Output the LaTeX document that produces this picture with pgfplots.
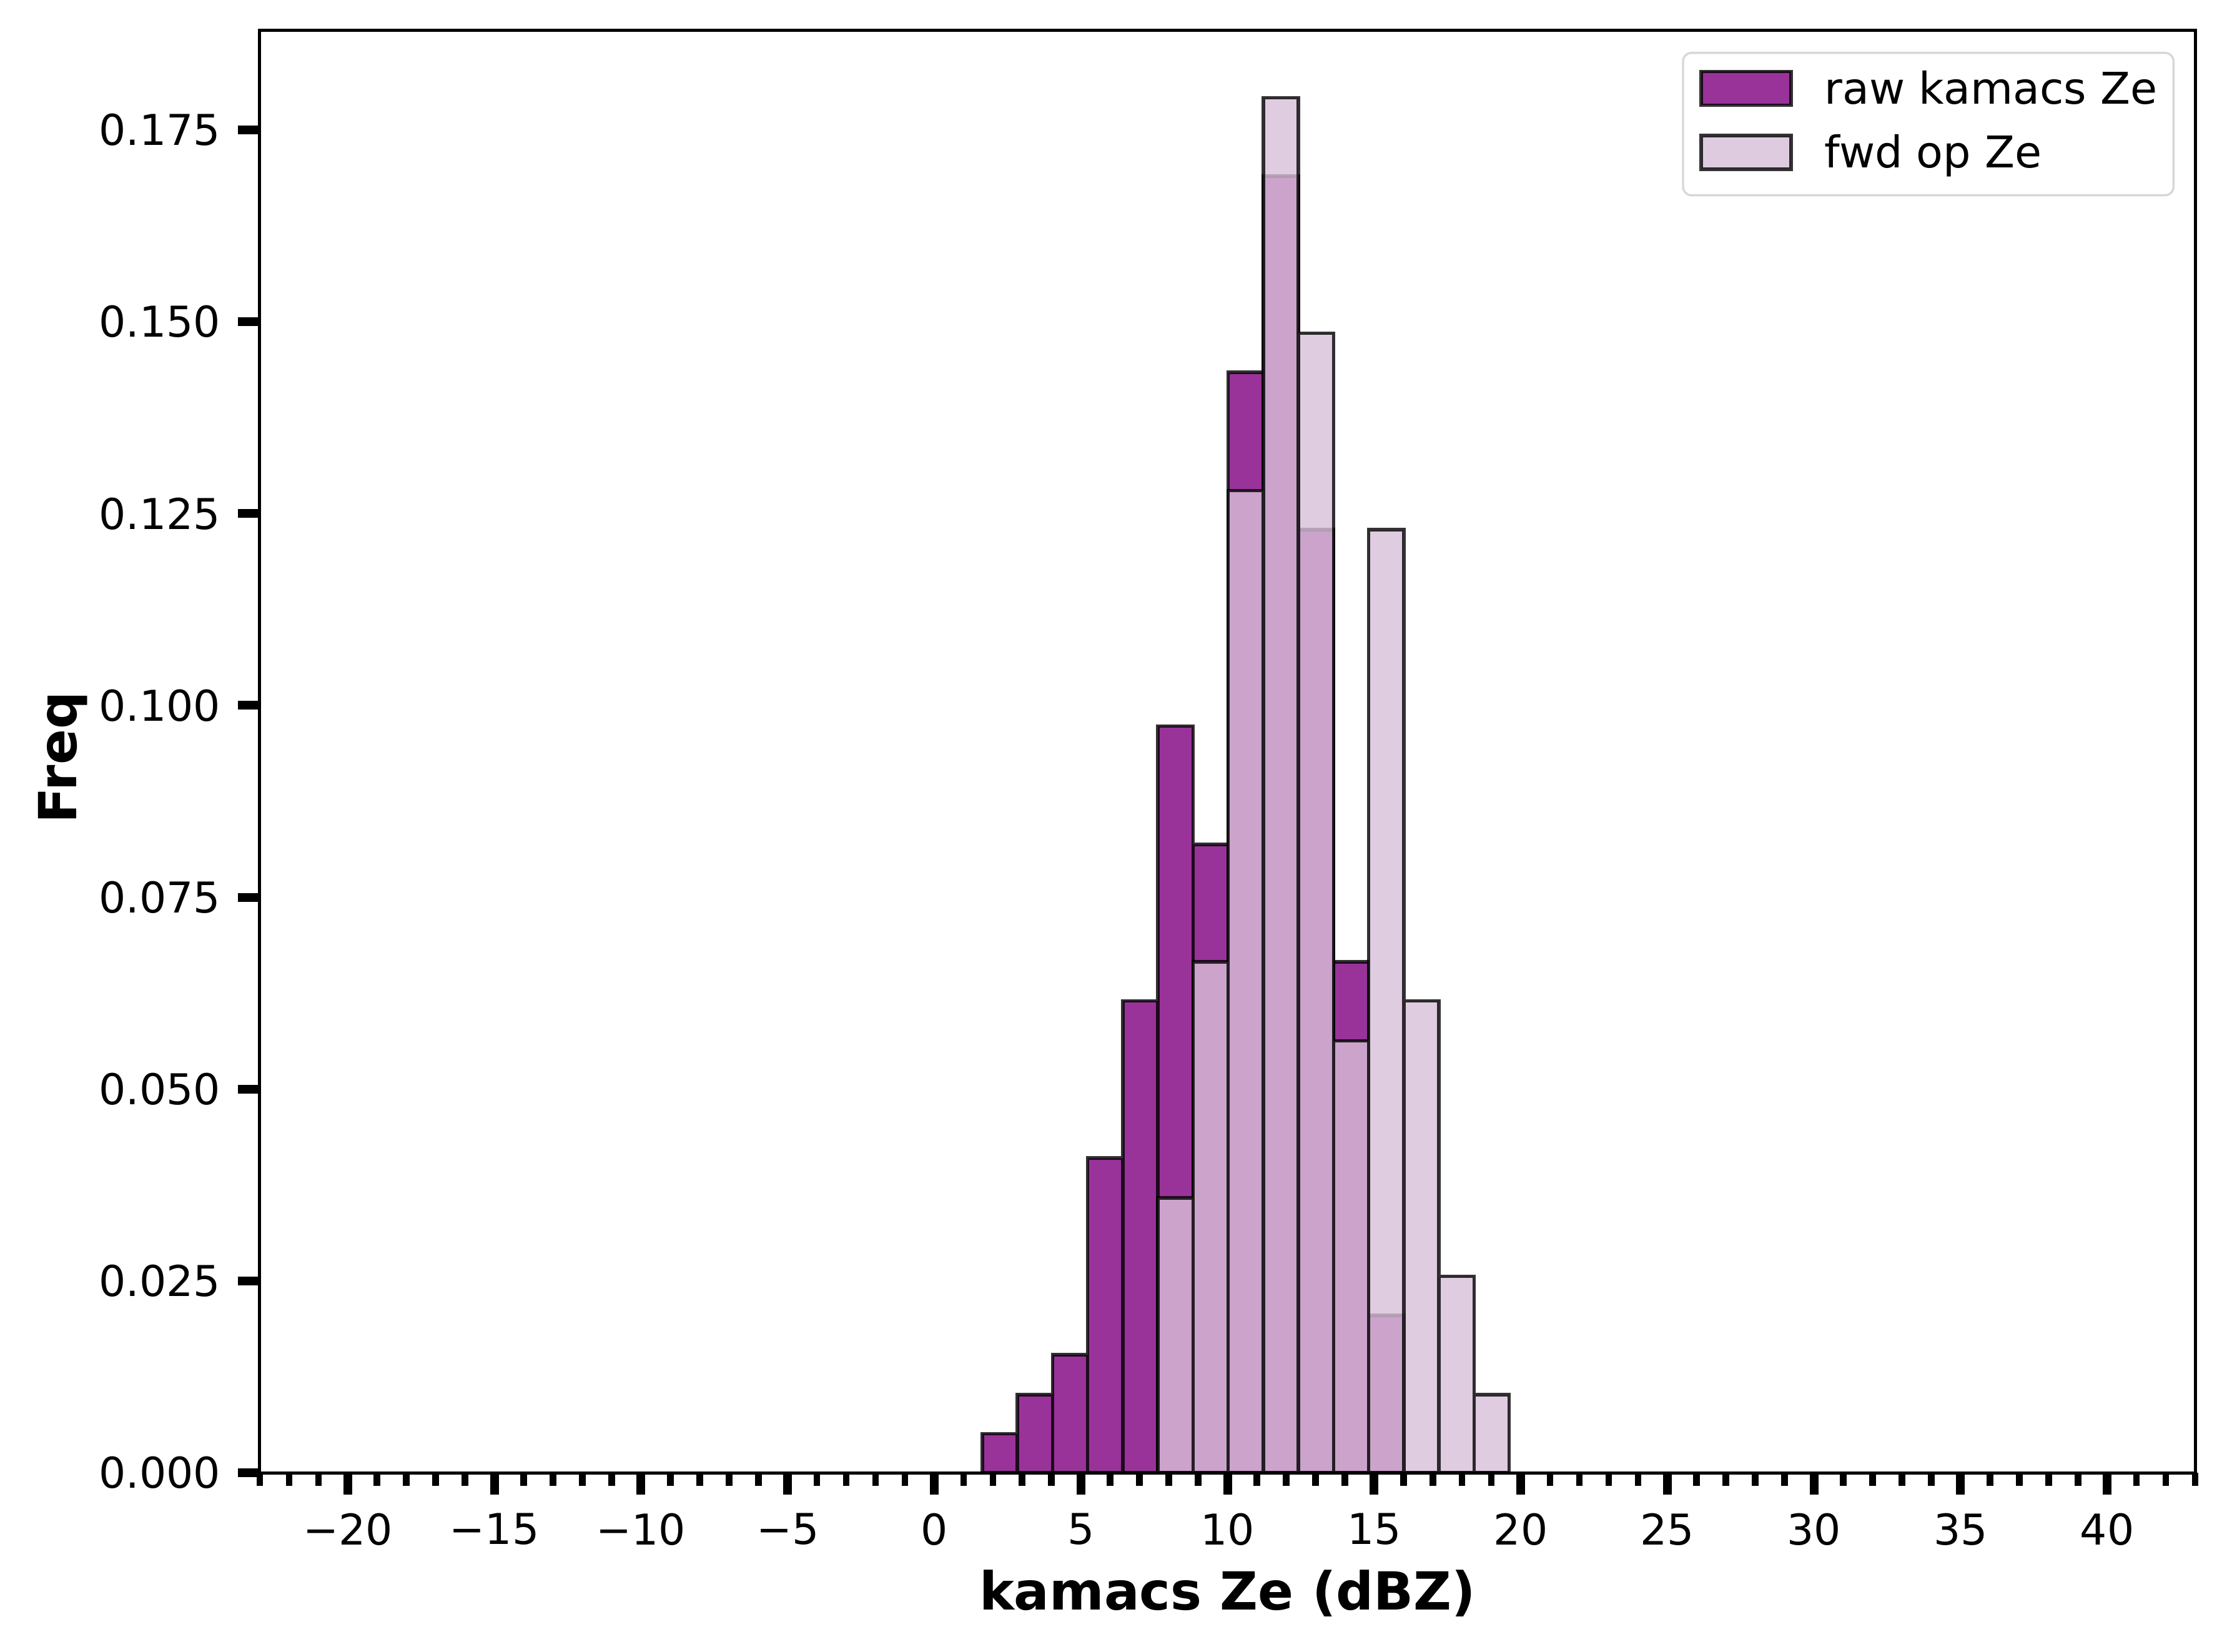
\documentclass[border=0pt]{standalone}
\usepackage{fontspec}
\setmainfont{DejaVu Sans}
\usepackage{pgfplots}
\pgfplotsset{compat=1.18}
\definecolor{rawc}{RGB}{128,0,128}
\definecolor{fwdc}{RGB}{216,191,216}
\definecolor{legframe}{RGB}{215,215,215}
\pgfplotsset{histleg/.style={legend image code/.code={\draw[##1, sharp corners, line width=0.85bp] (0bp,-3.05bp) rectangle (21.6bp,5.05bp);}}}
\begin{document}
\begin{tikzpicture}
\begin{axis}[
  scale only axis, width=464.85bp, height=346.35bp,
  xmin=-23, xmax=43, ymin=0, ymax=0.18795,
  axis on top,
  axis line style={line width=0.75bp, black},
  tick align=outside,
  tick pos=left,
  xtick={-20,-15,...,40},
  xticklabels={−20,−15,−10,−5,0,5,10,15,20,25,30,35,40},
  minor xtick={-23,-22,...,43},
  ytick={0,0.025,0.05,0.075,0.1,0.125,0.15,0.175},
  yticklabels={0.000,0.025,0.050,0.075,0.100,0.125,0.150,0.175},
  scaled y ticks=false,
  major tick length=5.25bp, minor tick length=3.15bp,
  every tick/.style={black},
  every major x tick/.style={black, line width=2.1bp},
  every minor x tick/.style={black, line width=1.6bp},
  every major y tick/.style={black, line width=2.1bp},
  ticklabel style={font=\fontsize{10.2bp}{12bp}\selectfont, inner sep=0pt},
  xticklabel style={anchor=north},
  yticklabel style={anchor=east},
  xticklabel shift=4.35bp, yticklabel shift=4.0bp,
  xlabel={kamacs Ze (dBZ)}, ylabel={Freq},
  every axis x label/.style={at={(axis description cs:0.5,-0.09528)}, anchor=base, font=\fontsize{12.6bp}{15bp}\selectfont\bfseries},
  every axis y label/.style={at={(axis description cs:-0.09487,0.4959)}, rotate=90, anchor=base, font=\fontsize{12.6bp}{15bp}\selectfont\bfseries},
  legend style={at={(1,1)}, anchor=north east, xshift=-4.95bp, yshift=-5.1bp,
    draw=legframe, line width=0.5bp, rounded corners=2bp, fill=white,
    inner xsep=3.9bp, inner ysep=4.05bp, row sep=4.65bp, column sep=7.65bp,
    nodes={inner sep=0pt, text height=8bp, text depth=2.5bp},
    font=\fontsize{10.5bp}{12bp}\selectfont},
  legend cell align=left,
]
\addplot[ybar interval, fill=rawc, fill opacity=0.8, draw=black, draw opacity=0.8, line width=0.85bp, histleg]
coordinates {
(1.638,0.0051) (2.836,0.0102) (4.034,0.0154) (5.232,0.0410) (6.430,0.0615)
(7.628,0.0973) (8.826,0.0819) (10.024,0.1434) (11.222,0.1690) (12.420,0.1229)
(13.618,0.0666) (14.816,0.0205) (16.014,0)
};
\addlegendentry{raw kamacs Ze}
\addplot[ybar interval, fill=fwdc, fill opacity=0.8, draw=black, draw opacity=0.8, line width=0.85bp, histleg]
coordinates {
(7.628,0.0358) (8.826,0.0666) (10.024,0.1280) (11.222,0.1792) (12.420,0.1485)
(13.618,0.0563) (14.816,0.1229) (16.014,0.0615) (17.212,0.0256) (18.410,0.0102)
(19.608,0)
};
\addlegendentry{fwd op Ze}
\end{axis}
\pgfresetboundingbox
\path[use as bounding box] ([shift={(-62.4bp,-42.9bp)}]current axis.south west) rectangle ([shift={(7.65bp,7.35bp)}]current axis.north east);
\end{tikzpicture}
\end{document}
